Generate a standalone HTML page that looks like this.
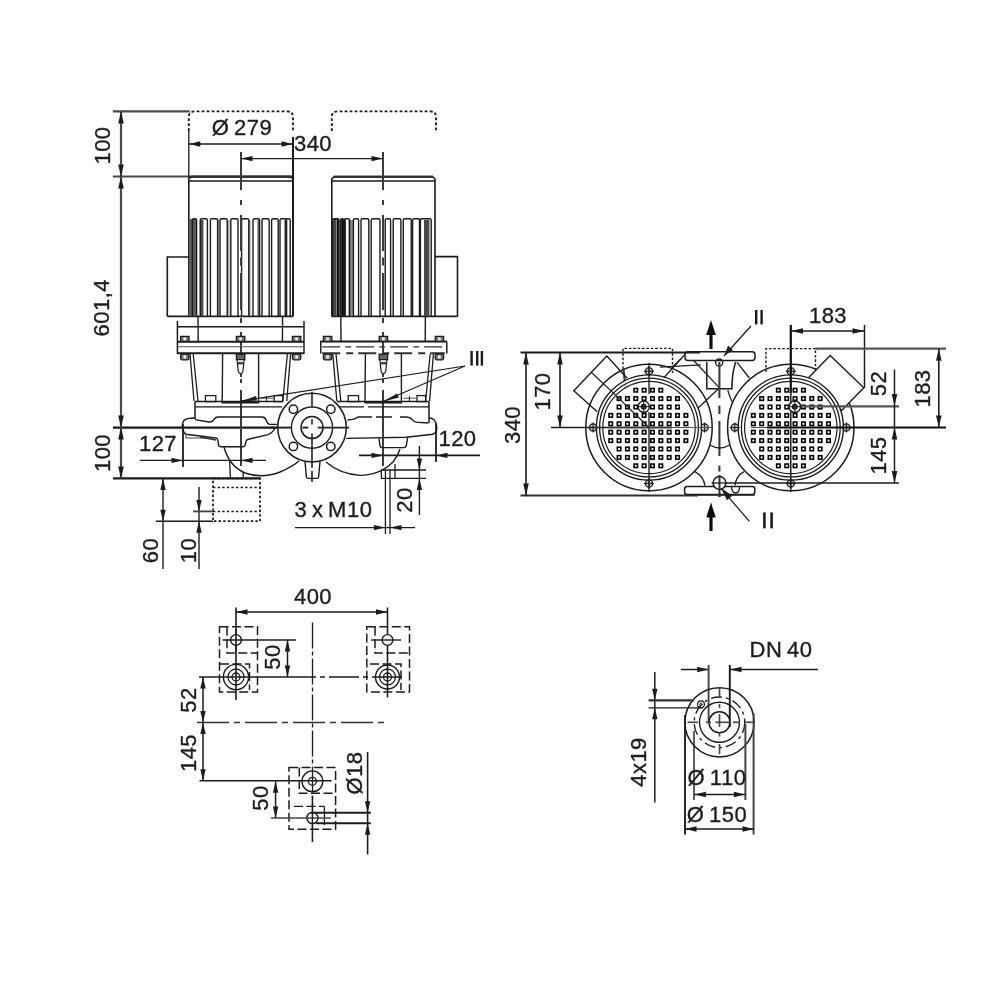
<!DOCTYPE html>
<html><head><meta charset="utf-8"><title>Dimension drawing</title>
<style>
html,body{margin:0;padding:0;background:#fff;}
body{width:1000px;height:1000px;overflow:hidden;font-family:"Liberation Sans",sans-serif;}
svg{display:block;font-family:"Liberation Sans",sans-serif;}
text{stroke:#1c1c1c;stroke-width:0.35px;}
</style></head><body>
<svg width="1000" height="1000" viewBox="0 0 1000 1000">
<defs><filter id="soft" x="-5%" y="-5%" width="110%" height="110%"><feGaussianBlur stdDeviation="0.45"/></filter></defs>
<rect x="0" y="0" width="1000" height="1000" fill="#ffffff"/>
<g filter="url(#soft)">
<g id="front">
<line x1="112.8" y1="111.4" x2="189.6" y2="111.4" stroke="#4a4a4a" stroke-width="2.2" />
<line x1="112.8" y1="176.5" x2="293" y2="176.5" stroke="#4a4a4a" stroke-width="2.2" />
<line x1="113" y1="427.6" x2="278" y2="427.6" stroke="#1c1c1c" stroke-width="2.2" />
<line x1="113" y1="478.4" x2="260" y2="478.4" stroke="#1c1c1c" stroke-width="2.2" />
<line x1="121" y1="111.4" x2="121" y2="478.4" stroke="#4a4a4a" stroke-width="2.2" />
<polygon points="121.0,111.4 118.2,123.4 123.8,123.4" fill="#1c1c1c"/>
<polygon points="121.0,176.5 118.2,164.5 123.8,164.5" fill="#1c1c1c"/>
<polygon points="121.0,176.5 118.2,188.5 123.8,188.5" fill="#1c1c1c"/>
<polygon points="121.0,427.6 118.2,415.6 123.8,415.6" fill="#1c1c1c"/>
<polygon points="121.0,427.6 118.2,439.6 123.8,439.6" fill="#1c1c1c"/>
<polygon points="121.0,478.4 118.2,466.4 123.8,466.4" fill="#1c1c1c"/>
<text x="109.5" y="145.5" font-size="22" text-anchor="middle" letter-spacing="0.5" fill="#1c1c1c" transform="rotate(-90 109.5 145.5)">100</text>
<text x="109.5" y="307.7" font-size="22" text-anchor="middle" letter-spacing="0.5" fill="#1c1c1c" transform="rotate(-90 109.5 307.7)">601,4</text>
<text x="109.5" y="453" font-size="22" text-anchor="middle" letter-spacing="0.5" fill="#1c1c1c" transform="rotate(-90 109.5 453)">100</text>
<path d="M188.8,131 L188.8,117 Q188.8,111.4 194.8,111.4 L287,111.4 Q293,111.4 293,117 L293,131" stroke="#1c1c1c" stroke-width="1.9" fill="none" stroke-dasharray="2.8 2.2"/>
<path d="M188.8,316.4 L188.8,179 L191.3,176.5 L290.5,176.5 L293,179 L293,316.4" stroke="#1c1c1c" stroke-width="1.6" fill="none"/>
<line x1="188.8" y1="181" x2="293" y2="181" stroke="#1c1c1c" stroke-width="1.4" />
<line x1="190.8" y1="176.8" x2="291" y2="176.8" stroke="#333" stroke-width="2.2" />
<line x1="167.3" y1="316.4" x2="293" y2="316.4" stroke="#1c1c1c" stroke-width="1.7" />
<rect x="188.8" y="219" width="7.6" height="97" rx="0" stroke="#1c1c1c" stroke-width="0" fill="#5e5e5e"/>
<rect x="200.0" y="220" width="3.4" height="96" rx="0" stroke="#1c1c1c" stroke-width="0" fill="#4a4a4a"/>
<rect x="217.60000000000002" y="220" width="1.6" height="96" rx="0" stroke="#1c1c1c" stroke-width="0" fill="#999"/>
<rect x="227.20000000000002" y="220" width="2.4" height="96" rx="0" stroke="#1c1c1c" stroke-width="0" fill="#aaa"/>
<rect x="248.8" y="220" width="1.8" height="96" rx="0" stroke="#1c1c1c" stroke-width="0" fill="#999"/>
<rect x="257.4" y="220" width="2.6" height="96" rx="0" stroke="#1c1c1c" stroke-width="0" fill="#666"/>
<rect x="284.4" y="220" width="3.0" height="96" rx="0" stroke="#1c1c1c" stroke-width="0" fill="#555"/>
<path d="M192.4,316.4 L192.4,220.2 Q192.4,218.8 193.8,218.8 L195.2,218.8 Q196.6,218.8 196.6,220.2 L196.6,316.4" stroke="#1c1c1c" stroke-width="1.4" fill="none"/>
<path d="M200.2,316.4 L200.2,220.2 Q200.2,218.8 201.6,218.8 L206.0,218.8 Q207.4,218.8 207.4,220.2 L207.4,316.4" stroke="#1c1c1c" stroke-width="1.4" fill="none"/>
<path d="M210.4,316.4 L210.4,220.2 Q210.4,218.8 211.8,218.8 L216.2,218.8 Q217.6,218.8 217.6,220.2 L217.6,316.4" stroke="#1c1c1c" stroke-width="1.4" fill="none"/>
<path d="M220.0,316.4 L220.0,220.2 Q220.0,218.8 221.4,218.8 L225.8,218.8 Q227.2,218.8 227.2,220.2 L227.2,316.4" stroke="#1c1c1c" stroke-width="1.4" fill="none"/>
<path d="M230.8,316.4 L230.8,220.2 Q230.8,218.8 232.2,218.8 L236.6,218.8 Q238.0,218.8 238.0,220.2 L238.0,316.4" stroke="#1c1c1c" stroke-width="1.4" fill="none"/>
<path d="M241.6,316.4 L241.6,220.2 Q241.6,218.8 243.0,218.8 L247.4,218.8 Q248.8,218.8 248.8,220.2 L248.8,316.4" stroke="#1c1c1c" stroke-width="1.4" fill="none"/>
<path d="M253.0,316.4 L253.0,220.2 Q253.0,218.8 254.4,218.8 L258.2,218.8 Q259.6,218.8 259.6,220.2 L259.6,316.4" stroke="#1c1c1c" stroke-width="1.4" fill="none"/>
<path d="M262.0,316.4 L262.0,220.2 Q262.0,218.8 263.4,218.8 L267.8,218.8 Q269.2,218.8 269.2,220.2 L269.2,316.4" stroke="#1c1c1c" stroke-width="1.4" fill="none"/>
<path d="M271.6,316.4 L271.6,220.2 Q271.6,218.8 273.0,218.8 L276.8,218.8 Q278.2,218.8 278.2,220.2 L278.2,316.4" stroke="#1c1c1c" stroke-width="1.4" fill="none"/>
<path d="M280.0,316.4 L280.0,220.2 Q280.0,218.8 281.4,218.8 L284.6,218.8 Q286.0,218.8 286.0,220.2 L286.0,316.4" stroke="#1c1c1c" stroke-width="1.4" fill="none"/>
<path d="M286.0,316.4 L286.0,220.2 Q286.0,218.8 287.4,218.8 L288.8,218.8 Q290.2,218.8 290.2,220.2 L290.2,316.4" stroke="#1c1c1c" stroke-width="1.4" fill="none"/>
<path d="M188.8,257 L167.3,257 L167.3,316.4" stroke="#1c1c1c" stroke-width="1.6" fill="none"/>
<line x1="241" y1="152" x2="241" y2="190" stroke="#3a3a3a" stroke-width="2.0" />
<line x1="241" y1="200" x2="241" y2="205" stroke="#3a3a3a" stroke-width="2.0" />
<line x1="241" y1="215" x2="241" y2="251" stroke="#3a3a3a" stroke-width="2.0" />
<line x1="241" y1="257.6" x2="241" y2="265.5" stroke="#3a3a3a" stroke-width="2.0" />
<line x1="241" y1="273" x2="241" y2="310" stroke="#3a3a3a" stroke-width="2.0" />
<line x1="241" y1="318" x2="241" y2="323" stroke="#3a3a3a" stroke-width="2.0" />
<line x1="241" y1="332" x2="241" y2="377" stroke="#3a3a3a" stroke-width="2.0" />
<line x1="241" y1="379" x2="241" y2="383" stroke="#3a3a3a" stroke-width="2.0" />
<line x1="241" y1="390" x2="241" y2="466" stroke="#3a3a3a" stroke-width="2.0" />
<path d="M331.8,131 L331.8,117 Q331.8,111.4 337.8,111.4 L430,111.4 Q436,111.4 436,117 L436,131" stroke="#1c1c1c" stroke-width="1.9" fill="none" stroke-dasharray="2.8 2.2"/>
<path d="M331.8,316.4 L331.8,179 L334.3,176.5 L432.5,176.5 L435,179 L435,316.4" stroke="#1c1c1c" stroke-width="1.6" fill="none"/>
<line x1="331.8" y1="181" x2="435" y2="181" stroke="#1c1c1c" stroke-width="1.4" />
<line x1="333.8" y1="176.8" x2="433" y2="176.8" stroke="#333" stroke-width="2.2" />
<line x1="331.8" y1="316.4" x2="457.5" y2="316.4" stroke="#1c1c1c" stroke-width="1.7" />
<rect x="332" y="219" width="4.2" height="97" rx="0" stroke="#1c1c1c" stroke-width="0" fill="#444"/>
<rect x="336.6" y="219" width="2.4" height="97" rx="0" stroke="#1c1c1c" stroke-width="0" fill="#111"/>
<rect x="341.2" y="219" width="2.2" height="97" rx="0" stroke="#1c1c1c" stroke-width="0" fill="#111"/>
<rect x="344.2" y="220" width="1.8" height="96" rx="0" stroke="#1c1c1c" stroke-width="0" fill="#333"/>
<rect x="348.4" y="220" width="5" height="96" rx="0" stroke="#1c1c1c" stroke-width="0" fill="#8a8a8a"/>
<rect x="424" y="220" width="5.4" height="96" rx="0" stroke="#1c1c1c" stroke-width="0" fill="#484848"/>
<path d="M332.4,316.4 L332.4,220.2 Q332.4,218.8 333.8,218.8 L337.6,218.8 Q339.0,218.8 339.0,220.2 L339.0,316.4" stroke="#1c1c1c" stroke-width="1.4" fill="none"/>
<path d="M340.6,316.4 L340.6,220.2 Q340.6,218.8 342.0,218.8 L342.2,218.8 Q343.6,218.8 343.6,220.2 L343.6,316.4" stroke="#1c1c1c" stroke-width="1.4" fill="none"/>
<path d="M344.4,316.4 L344.4,220.2 Q344.4,218.8 345.8,218.8 L348.2,218.8 Q349.6,218.8 349.6,220.2 L349.6,316.4" stroke="#1c1c1c" stroke-width="1.4" fill="none"/>
<path d="M353.4,316.4 L353.4,220.2 Q353.4,218.8 354.8,218.8 L357.2,218.8 Q358.6,218.8 358.6,220.2 L358.6,316.4" stroke="#1c1c1c" stroke-width="1.4" fill="none"/>
<path d="M361.0,316.4 L361.0,220.2 Q361.0,218.8 362.4,218.8 L367.4,218.8 Q368.8,218.8 368.8,220.2 L368.8,316.4" stroke="#1c1c1c" stroke-width="1.4" fill="none"/>
<path d="M371.2,316.4 L371.2,220.2 Q371.2,218.8 372.6,218.8 L378.6,218.8 Q380.0,218.8 380.0,220.2 L380.0,316.4" stroke="#1c1c1c" stroke-width="1.4" fill="none"/>
<path d="M385.2,316.4 L385.2,220.2 Q385.2,218.8 386.6,218.8 L389.2,218.8 Q390.6,218.8 390.6,220.2 L390.6,316.4" stroke="#1c1c1c" stroke-width="1.4" fill="none"/>
<path d="M393.2,316.4 L393.2,220.2 Q393.2,218.8 394.6,218.8 L399.5,218.8 Q400.9,218.8 400.9,220.2 L400.9,316.4" stroke="#1c1c1c" stroke-width="1.4" fill="none"/>
<path d="M403.3,316.4 L403.3,220.2 Q403.3,218.8 404.7,218.8 L409.8,218.8 Q411.2,218.8 411.2,220.2 L411.2,316.4" stroke="#1c1c1c" stroke-width="1.4" fill="none"/>
<path d="M412.6,316.4 L412.6,220.2 Q412.6,218.8 414.0,218.8 L418.1,218.8 Q419.5,218.8 419.5,220.2 L419.5,316.4" stroke="#1c1c1c" stroke-width="1.4" fill="none"/>
<path d="M420.4,316.4 L420.4,220.2 Q420.4,218.8 421.8,218.8 L429.8,218.8 Q431.2,218.8 431.2,220.2 L431.2,316.4" stroke="#1c1c1c" stroke-width="1.4" fill="none"/>
<path d="M435,256.6 L457.5,256.6 L457.5,316.4" stroke="#1c1c1c" stroke-width="1.6" fill="none"/>
<line x1="383" y1="152" x2="383" y2="190" stroke="#3a3a3a" stroke-width="2.0" />
<line x1="383" y1="200" x2="383" y2="205" stroke="#3a3a3a" stroke-width="2.0" />
<line x1="383" y1="215" x2="383" y2="251" stroke="#3a3a3a" stroke-width="2.0" />
<line x1="383" y1="257.6" x2="383" y2="265.5" stroke="#3a3a3a" stroke-width="2.0" />
<line x1="383" y1="273" x2="383" y2="310" stroke="#3a3a3a" stroke-width="2.0" />
<line x1="383" y1="318" x2="383" y2="323" stroke="#3a3a3a" stroke-width="2.0" />
<line x1="383" y1="332" x2="383" y2="377" stroke="#3a3a3a" stroke-width="2.0" />
<line x1="383" y1="379" x2="383" y2="383" stroke="#3a3a3a" stroke-width="2.0" />
<line x1="383" y1="390" x2="383" y2="466" stroke="#3a3a3a" stroke-width="2.0" />
<line x1="293" y1="137" x2="293" y2="316" stroke="#1c1c1c" stroke-width="2.0" />
<line x1="188.8" y1="131" x2="188.8" y2="178" stroke="#1c1c1c" stroke-width="1.3" />
<line x1="188.8" y1="144" x2="293" y2="144" stroke="#1c1c1c" stroke-width="1.4" />
<polygon points="188.8,144.0 200.3,141.3 200.3,146.7" fill="#1c1c1c"/>
<polygon points="293.0,144.0 281.5,141.3 281.5,146.7" fill="#1c1c1c"/>
<text x="242" y="134.5" font-size="22" text-anchor="middle" letter-spacing="0.5" word-spacing="-2" fill="#1c1c1c">Ø 279</text>
<line x1="241" y1="158.6" x2="383" y2="158.6" stroke="#1c1c1c" stroke-width="1.4" />
<polygon points="241.0,158.6 252.5,155.9 252.5,161.3" fill="#1c1c1c"/>
<polygon points="383.0,158.6 371.5,155.9 371.5,161.3" fill="#1c1c1c"/>
<text x="313" y="150.5" font-size="22" text-anchor="middle" letter-spacing="0.5" fill="#1c1c1c">340</text>
<line x1="198.0" y1="316.4" x2="198.2" y2="341.5" stroke="#1c1c1c" stroke-width="1.4" />
<line x1="282.6" y1="316.4" x2="282.4" y2="341.5" stroke="#1c1c1c" stroke-width="1.4" />
<line x1="177.39999999999998" y1="321" x2="177.39999999999998" y2="354" stroke="#1c1c1c" stroke-width="1.5" />
<line x1="304.0" y1="321" x2="304.0" y2="354" stroke="#1c1c1c" stroke-width="1.5" />
<line x1="177.39999999999998" y1="326.8" x2="304.0" y2="326.8" stroke="#1c1c1c" stroke-width="1.5" />
<line x1="177.39999999999998" y1="341.7" x2="304.0" y2="341.7" stroke="#1c1c1c" stroke-width="2.0" />
<line x1="177.39999999999998" y1="346.8" x2="304.0" y2="346.8" stroke="#555" stroke-width="1.1" />
<line x1="177.39999999999998" y1="353.3" x2="304.0" y2="353.3" stroke="#1c1c1c" stroke-width="2.0" />
<rect x="180.60000000000002" y="336.4" width="8.4" height="5" rx="0" stroke="#1c1c1c" stroke-width="1.3" fill="#777"/>
<rect x="183.5" y="337.4" width="2.6" height="3" rx="0" stroke="#1c1c1c" stroke-width="0" fill="#eee"/>
<rect x="236.4" y="336.4" width="8.4" height="5" rx="0" stroke="#1c1c1c" stroke-width="1.3" fill="#777"/>
<rect x="239.29999999999998" y="337.4" width="2.6" height="3" rx="0" stroke="#1c1c1c" stroke-width="0" fill="#eee"/>
<rect x="292.40000000000003" y="336.4" width="8.4" height="5" rx="0" stroke="#1c1c1c" stroke-width="1.3" fill="#777"/>
<rect x="295.3" y="337.4" width="2.6" height="3" rx="0" stroke="#1c1c1c" stroke-width="0" fill="#eee"/>
<rect x="180.60000000000002" y="354.2" width="8.4" height="5.6" rx="1.5" stroke="#1c1c1c" stroke-width="1.3" fill="#777"/>
<rect x="183.5" y="355.2" width="2.6" height="3.4" rx="0" stroke="#1c1c1c" stroke-width="0" fill="#eee"/>
<rect x="292.40000000000003" y="354.2" width="8.4" height="5.6" rx="1.5" stroke="#1c1c1c" stroke-width="1.3" fill="#777"/>
<rect x="295.3" y="355.2" width="2.6" height="3.4" rx="0" stroke="#1c1c1c" stroke-width="0" fill="#eee"/>
<rect x="236.4" y="354.2" width="8.4" height="5.4" rx="0" stroke="#1c1c1c" stroke-width="1.3" fill="#666"/>
<path d="M237.0,359.6 L238.4,372 Q240.6,375.5 242.79999999999998,372 L244.2,359.6 Z" stroke="#1c1c1c" stroke-width="1.2" fill="#fff"/>
<rect x="238.0" y="362" width="5.2" height="2.4" rx="0" stroke="#1c1c1c" stroke-width="0" fill="#444"/>
<line x1="190.0" y1="354" x2="194.0" y2="401" stroke="#1c1c1c" stroke-width="1.3" />
<line x1="193.2" y1="354" x2="198.0" y2="401" stroke="#1c1c1c" stroke-width="1.3" />
<line x1="290.6" y1="354" x2="286.8" y2="401" stroke="#1c1c1c" stroke-width="1.3" />
<line x1="287.4" y1="354" x2="282.8" y2="401" stroke="#1c1c1c" stroke-width="1.3" />
<path d="M222.6,354 L222.2,402.8 L258.6,402.8 L258.6,354" stroke="#1c1c1c" stroke-width="1.4" fill="none"/>
<rect x="205.39999999999998" y="395.6" width="10.4" height="6" rx="0" stroke="#1c1c1c" stroke-width="1.3" fill="none"/>
<rect x="274.2" y="395.6" width="8.6" height="6" rx="0" stroke="#1c1c1c" stroke-width="1.3" fill="none"/>
<line x1="260.6" y1="398.2" x2="273.6" y2="398.2" stroke="#555" stroke-width="1.0" />
<line x1="266.6" y1="396" x2="266.6" y2="401" stroke="#1c1c1c" stroke-width="1.0" />
<line x1="340.79999999999995" y1="316.4" x2="341.0" y2="341.5" stroke="#1c1c1c" stroke-width="1.4" />
<line x1="425.4" y1="316.4" x2="425.2" y2="341.5" stroke="#1c1c1c" stroke-width="1.4" />
<line x1="320.8" y1="341.5" x2="320.8" y2="353.5" stroke="#1c1c1c" stroke-width="1.5" />
<line x1="446.79999999999995" y1="341.5" x2="446.79999999999995" y2="353.5" stroke="#1c1c1c" stroke-width="1.5" />
<line x1="320.2" y1="341.5" x2="446.79999999999995" y2="341.5" stroke="#1c1c1c" stroke-width="2.0" />
<line x1="322.2" y1="346.8" x2="444.79999999999995" y2="346.8" stroke="#333" stroke-width="1.3" stroke-dasharray="18 5 6 5" />
<line x1="322.2" y1="353.3" x2="444.79999999999995" y2="353.3" stroke="#333" stroke-width="2.0" stroke-dasharray="18 6 7 5" />
<rect x="323.4" y="336.4" width="8.4" height="5" rx="0" stroke="#1c1c1c" stroke-width="1.3" fill="#777"/>
<rect x="326.29999999999995" y="337.4" width="2.6" height="3" rx="0" stroke="#1c1c1c" stroke-width="0" fill="#eee"/>
<rect x="379.2" y="336.4" width="8.4" height="5" rx="0" stroke="#1c1c1c" stroke-width="1.3" fill="#777"/>
<rect x="382.09999999999997" y="337.4" width="2.6" height="3" rx="0" stroke="#1c1c1c" stroke-width="0" fill="#eee"/>
<rect x="435.2" y="336.4" width="8.4" height="5" rx="0" stroke="#1c1c1c" stroke-width="1.3" fill="#777"/>
<rect x="438.09999999999997" y="337.4" width="2.6" height="3" rx="0" stroke="#1c1c1c" stroke-width="0" fill="#eee"/>
<rect x="323.4" y="354.2" width="8.4" height="5.6" rx="1.5" stroke="#1c1c1c" stroke-width="1.3" fill="#777"/>
<rect x="326.29999999999995" y="355.2" width="2.6" height="3.4" rx="0" stroke="#1c1c1c" stroke-width="0" fill="#eee"/>
<rect x="435.2" y="354.2" width="8.4" height="5.6" rx="1.5" stroke="#1c1c1c" stroke-width="1.3" fill="#777"/>
<rect x="438.09999999999997" y="355.2" width="2.6" height="3.4" rx="0" stroke="#1c1c1c" stroke-width="0" fill="#eee"/>
<rect x="379.2" y="354.2" width="8.4" height="5.4" rx="0" stroke="#1c1c1c" stroke-width="1.3" fill="#666"/>
<path d="M379.79999999999995,359.6 L381.2,372 Q383.4,375.5 385.59999999999997,372 L387.0,359.6 Z" stroke="#1c1c1c" stroke-width="1.2" fill="#fff"/>
<rect x="380.79999999999995" y="362" width="5.2" height="2.4" rx="0" stroke="#1c1c1c" stroke-width="0" fill="#444"/>
<line x1="332.79999999999995" y1="354" x2="336.79999999999995" y2="401" stroke="#1c1c1c" stroke-width="1.3" />
<line x1="336.0" y1="354" x2="340.79999999999995" y2="401" stroke="#1c1c1c" stroke-width="1.3" />
<line x1="433.4" y1="354" x2="429.59999999999997" y2="401" stroke="#1c1c1c" stroke-width="1.3" />
<line x1="430.2" y1="354" x2="425.59999999999997" y2="401" stroke="#1c1c1c" stroke-width="1.3" />
<path d="M365.4,354 L365.0,402.8 L401.4,402.8 L401.4,354" stroke="#1c1c1c" stroke-width="1.4" fill="none"/>
<rect x="348.2" y="395.6" width="10.4" height="6" rx="0" stroke="#1c1c1c" stroke-width="1.3" fill="none"/>
<rect x="417.0" y="395.6" width="8.6" height="6" rx="0" stroke="#1c1c1c" stroke-width="1.3" fill="none"/>
<line x1="403.4" y1="398.2" x2="416.4" y2="398.2" stroke="#555" stroke-width="1.0" />
<line x1="409.4" y1="396" x2="409.4" y2="401" stroke="#1c1c1c" stroke-width="1.0" />
<path d="M195,401.5 L283,401.5" stroke="#1c1c1c" stroke-width="1.5" fill="none"/>
<path d="M195,406.8 L282,406.8" stroke="#1c1c1c" stroke-width="1.3" fill="none"/>
<path d="M195,401.5 L195,419" stroke="#1c1c1c" stroke-width="1.5" fill="none"/>
<path d="M195,418 Q186,418 184,420.5 Q181.5,424 182.6,428.5 Q183.6,433 186,434.2 L216,438 Q217.6,438.4 217.8,440 L218.6,445 Q219,446.8 221,446.8 L243,446.8 Q244.8,446.8 245.2,445 L246.2,441 Q246.6,439.6 248.5,439.2 L268,434.6 Q273,433 275,427.6" stroke="#1c1c1c" stroke-width="1.4" fill="none"/>
<path d="M195,419.6 L209,422 Q212,422.2 213.6,420 Q215.4,417 218,417 L262,417 Q265,417 266.2,420 Q267.4,424.2 270,424.4 L277,424.4" stroke="#1c1c1c" stroke-width="1.4" fill="none"/>
<path d="M186,434.2 L186,438 L213,438" stroke="#444" stroke-width="1.0" fill="none"/>
<path d="M200,437 L216,440" stroke="#333" stroke-width="1.6" fill="none"/>
<path d="M224,447 Q229,466 245,473 Q262,479 280,472 Q292,467 299,461" stroke="#1c1c1c" stroke-width="1.4" fill="none"/>
<line x1="229.6" y1="460" x2="230.4" y2="478.4" stroke="#1c1c1c" stroke-width="1.3" />
<line x1="243.2" y1="472" x2="243.2" y2="478.4" stroke="#1c1c1c" stroke-width="1.3" />
<path d="M337,401.5 L429,401.5" stroke="#1c1c1c" stroke-width="1.5" fill="none"/>
<path d="M338,406.8 L429,406.8" stroke="#1c1c1c" stroke-width="1.3" fill="none" stroke-dasharray="26 4 60 0"/>
<path d="M429,401.5 L429,423" stroke="#1c1c1c" stroke-width="1.5" fill="none"/>
<path d="M429,418 Q433.4,418.2 435.2,421.5 Q437.2,425.5 436.6,430 Q436,433.4 433,434.2 L406,437.2 L347.6,438.4" stroke="#1c1c1c" stroke-width="1.4" fill="none"/>
<path d="M347.6,420 Q355,419.6 358,417 L372,417 M376,417 L392,417 M400,417 L406,417 Q410,417 412,419.6 Q414,422.2 418,422.4 L428.4,423" stroke="#1c1c1c" stroke-width="1.4" fill="none"/>
<path d="M379,438.4 L380,446 Q380.4,447.6 382,447.6 L404,447.6 Q405.8,447.6 406.2,446 L407.6,438" stroke="#1c1c1c" stroke-width="1.4" fill="none"/>
<path d="M346,438.4 L352,438.4" stroke="#1c1c1c" stroke-width="1.0" fill="none"/>
<path d="M326,462 Q340,474 360,475.4 Q380,475 393,462 Q398,456 400,449" stroke="#1c1c1c" stroke-width="1.4" fill="none"/>
<path d="M381.4,470 L381.4,478.4 M385.4,470 L385.4,534 M390,470 L390,534 M395,464 L395,478.4" stroke="#1c1c1c" stroke-width="1.3" fill="none"/>
<line x1="381" y1="470" x2="426" y2="470" stroke="#1c1c1c" stroke-width="1.6" />
<line x1="381" y1="478.4" x2="426" y2="478.4" stroke="#1c1c1c" stroke-width="1.3" />
<line x1="419.4" y1="446" x2="419.4" y2="515" stroke="#1c1c1c" stroke-width="1.4" />
<polygon points="419.4,470.0 416.7,458.5 422.1,458.5" fill="#1c1c1c"/>
<polygon points="419.4,478.4 416.7,489.9 422.1,489.9" fill="#1c1c1c"/>
<text x="411.5" y="500" font-size="22" text-anchor="middle" letter-spacing="0.5" fill="#1c1c1c" transform="rotate(-90 411.5 500)">20</text>
<line x1="295" y1="527.6" x2="415" y2="527.6" stroke="#1c1c1c" stroke-width="1.4" />
<polygon points="385.4,527.6 373.9,524.9 373.9,530.3" fill="#1c1c1c"/>
<polygon points="390.0,527.6 401.5,524.9 401.5,530.3" fill="#1c1c1c"/>
<text x="333.5" y="517" font-size="22" text-anchor="middle" letter-spacing="0.5" word-spacing="-2" fill="#1c1c1c">3 x M10</text>
<line x1="359" y1="455.4" x2="480" y2="455.4" stroke="#1c1c1c" stroke-width="1.6" />
<polygon points="383.0,455.4 371.5,452.7 371.5,458.1" fill="#1c1c1c"/>
<polygon points="436.0,455.4 447.5,452.7 447.5,458.1" fill="#1c1c1c"/>
<line x1="436" y1="423" x2="436" y2="462" stroke="#1c1c1c" stroke-width="1.8" />
<text x="457.5" y="446" font-size="22" text-anchor="middle" letter-spacing="0.5" fill="#1c1c1c">120</text>
<line x1="140" y1="460.4" x2="266" y2="460.4" stroke="#1c1c1c" stroke-width="1.4" />
<polygon points="183.0,460.4 171.5,457.7 171.5,463.1" fill="#1c1c1c"/>
<polygon points="241.0,460.4 252.5,457.7 252.5,463.1" fill="#1c1c1c"/>
<line x1="183" y1="424" x2="183" y2="467" stroke="#1c1c1c" stroke-width="1.8" />
<text x="158" y="451" font-size="22" text-anchor="middle" letter-spacing="0.5" fill="#1c1c1c">127</text>
<circle cx="312" cy="427.6" r="34.3" stroke="#1c1c1c" stroke-width="1.5" fill="#fff"/>
<circle cx="312" cy="427.6" r="20.6" stroke="#1c1c1c" stroke-width="1.4" fill="none"/>
<circle cx="312" cy="427.6" r="11" stroke="#1c1c1c" stroke-width="1.5" fill="none"/>
<circle cx="293.4" cy="409.20000000000005" r="4.2" stroke="#1c1c1c" stroke-width="1.5" fill="none"/>
<circle cx="293.4" cy="446.40000000000003" r="4.2" stroke="#1c1c1c" stroke-width="1.5" fill="none"/>
<circle cx="330.8" cy="409.20000000000005" r="4.2" stroke="#1c1c1c" stroke-width="1.5" fill="none"/>
<circle cx="330.8" cy="446.40000000000003" r="4.2" stroke="#1c1c1c" stroke-width="1.5" fill="none"/>
<line x1="270" y1="427.6" x2="291.6" y2="427.6" stroke="#222" stroke-width="1.9" />
<line x1="302.4" y1="427.6" x2="308.3" y2="427.6" stroke="#222" stroke-width="1.9" />
<line x1="317.7" y1="427.6" x2="349.2" y2="427.6" stroke="#222" stroke-width="1.9" />
<line x1="312" y1="391.8" x2="312" y2="406.6" stroke="#222" stroke-width="1.6" />
<line x1="312" y1="419.2" x2="312" y2="424.6" stroke="#222" stroke-width="1.6" />
<line x1="312" y1="433.6" x2="312" y2="467.8" stroke="#222" stroke-width="1.6" />
<line x1="312" y1="471" x2="312" y2="482" stroke="#222" stroke-width="1.6" />
<path d="M305,461.4 L306.4,477 Q306.6,478.4 308,478.4 L317,478.4 Q318.4,478.4 318.6,477 L320,461.4" stroke="#1c1c1c" stroke-width="1.4" fill="none"/>
<line x1="465" y1="366" x2="240.6" y2="401.2" stroke="#1c1c1c" stroke-width="1.2" />
<line x1="465" y1="366" x2="383.6" y2="401.2" stroke="#1c1c1c" stroke-width="1.2" />
<polygon points="240.6,401.6 256,396.0 256.8,400.6" fill="#1c1c1c"/>
<polygon points="383.6,401.6 397,393.4 398.8,397.4" fill="#1c1c1c"/>
<rect x="470.40000000000003" y="351" width="2.4" height="14.6" rx="0" stroke="#1c1c1c" stroke-width="0" fill="#1c1c1c"/>
<rect x="476.0" y="351" width="2.4" height="14.6" rx="0" stroke="#1c1c1c" stroke-width="0" fill="#1c1c1c"/>
<rect x="480.7" y="351" width="2.4" height="14.6" rx="0" stroke="#1c1c1c" stroke-width="0" fill="#1c1c1c"/>
<rect x="213" y="478.4" width="47" height="42.8" rx="0" stroke="#1c1c1c" stroke-width="1.8" fill="none" stroke-dasharray="2.4 2.2"/>
<line x1="213" y1="487.6" x2="260" y2="487.6" stroke="#1c1c1c" stroke-width="1.5" stroke-dasharray="2.4 2.2" />
<line x1="213" y1="511.4" x2="260" y2="511.4" stroke="#1c1c1c" stroke-width="1.5" stroke-dasharray="2.4 2.2" />
<line x1="163" y1="478.4" x2="163" y2="569" stroke="#1c1c1c" stroke-width="1.4" />
<line x1="156" y1="521.2" x2="213" y2="521.2" stroke="#1c1c1c" stroke-width="1.4" />
<polygon points="163.0,478.4 160.3,489.9 165.7,489.9" fill="#1c1c1c"/>
<polygon points="163.0,521.2 160.3,509.7 165.7,509.7" fill="#1c1c1c"/>
<text x="157.5" y="550.5" font-size="22" text-anchor="middle" letter-spacing="0.5" fill="#1c1c1c" transform="rotate(-90 157.5 550.5)">60</text>
<line x1="199" y1="487" x2="199" y2="569" stroke="#1c1c1c" stroke-width="1.4" />
<line x1="193" y1="511.4" x2="213" y2="511.4" stroke="#444" stroke-width="1.8" />
<polygon points="199.0,511.4 196.3,499.9 201.7,499.9" fill="#1c1c1c"/>
<polygon points="199.0,521.2 196.3,532.7 201.7,532.7" fill="#1c1c1c"/>
<text x="195.5" y="550.5" font-size="22" text-anchor="middle" letter-spacing="0.5" fill="#1c1c1c" transform="rotate(-90 195.5 550.5)">10</text>
</g>
<g id="top">
<line x1="520.5" y1="495.5" x2="698" y2="495.5" stroke="#333" stroke-width="2.0" />
<line x1="698" y1="495.5" x2="755" y2="495.5" stroke="#555" stroke-width="1.0" />
<line x1="526" y1="352.5" x2="526" y2="495.5" stroke="#1c1c1c" stroke-width="1.6" />
<polygon points="526.0,352.5 523.2,364.5 528.8,364.5" fill="#1c1c1c"/>
<polygon points="526.0,495.5 523.2,483.5 528.8,483.5" fill="#1c1c1c"/>
<text x="520" y="425" font-size="22" text-anchor="middle" letter-spacing="0.5" fill="#1c1c1c" transform="rotate(-90 520 425)">340</text>
<line x1="560" y1="352.5" x2="560" y2="427.5" stroke="#1c1c1c" stroke-width="1.6" />
<polygon points="560.0,352.5 557.2,364.5 562.8,364.5" fill="#1c1c1c"/>
<polygon points="560.0,427.5 557.2,415.5 562.8,415.5" fill="#1c1c1c"/>
<text x="550" y="391.5" font-size="22" text-anchor="middle" letter-spacing="0.5" fill="#1c1c1c" transform="rotate(-90 550 391.5)">170</text>
<circle cx="649" cy="427.5" r="63.2" stroke="#1c1c1c" stroke-width="1.5" fill="#fff"/>
<circle cx="790.8" cy="427.5" r="63.2" stroke="#1c1c1c" stroke-width="1.5" fill="#fff"/>
<path d="M623,369 L623,348.4 L672.5,348.4 L672.5,373" stroke="#1c1c1c" stroke-width="1.4" fill="none" stroke-dasharray="2.6 1.8"/>
<line x1="623.6" y1="369" x2="624.6" y2="381" stroke="#333" stroke-width="2.0" />
<path d="M766,372 L766,348.6 L815.5,348.6 L815.5,370" stroke="#1c1c1c" stroke-width="1.4" fill="none" stroke-dasharray="2.6 1.8"/>
<path d="M597.2,411.8 L573.8,390.8 L606.8,356 L627.2,378.2" stroke="#1c1c1c" stroke-width="1.4" fill="none"/>
<line x1="591.2" y1="372.2" x2="611.6" y2="391.4" stroke="#1c1c1c" stroke-width="1.3" />
<path d="M808,378.2 L830.2,355.4 L863.8,387.8 L841.6,410.6 Z" stroke="#1c1c1c" stroke-width="1.4" fill="#fff"/>
<line x1="663.6" y1="378" x2="686" y2="353.4" stroke="#1c1c1c" stroke-width="1.3" />
<line x1="687.6" y1="354" x2="719.2" y2="387.6" stroke="#1c1c1c" stroke-width="1.3" />
<line x1="719.2" y1="388" x2="697" y2="409" stroke="#1c1c1c" stroke-width="1.3" />
<line x1="660" y1="367.2" x2="700.8" y2="364.8" stroke="#1c1c1c" stroke-width="1.2" />
<line x1="672.4" y1="367" x2="681" y2="358.6" stroke="#1c1c1c" stroke-width="1.2" />
<path d="M706.8,362 L706.8,388.8 L732,388.8 Q731.6,375 735.6,362" stroke="#1c1c1c" stroke-width="1.5" fill="none"/>
<line x1="737" y1="362.4" x2="749.4" y2="378" stroke="#1c1c1c" stroke-width="1.3" />
<path d="M727.8,390 Q730,398 732.6,402.4" stroke="#1c1c1c" stroke-width="1.2" fill="none"/>
<circle cx="649" cy="427.5" r="52.6" stroke="#1c1c1c" stroke-width="1.4" fill="#fff"/>
<circle cx="649" cy="427.5" r="49.4" stroke="#1c1c1c" stroke-width="1.3" fill="none"/>
<circle cx="649" cy="427.5" r="46.2" stroke="#1c1c1c" stroke-width="1.2" fill="none"/>
<rect x="634.02" y="388.45" width="3.5" height="3.5" rx="0" stroke="#000" stroke-width="1.55" fill="#fff"/>
<rect x="642.38" y="388.45" width="3.5" height="3.5" rx="0" stroke="#000" stroke-width="1.55" fill="#fff"/>
<rect x="650.72" y="388.45" width="3.5" height="3.5" rx="0" stroke="#000" stroke-width="1.55" fill="#fff"/>
<rect x="659.07" y="388.45" width="3.5" height="3.5" rx="0" stroke="#000" stroke-width="1.55" fill="#fff"/>
<rect x="617.32" y="396.85" width="3.5" height="3.5" rx="0" stroke="#000" stroke-width="1.55" fill="#fff"/>
<rect x="625.67" y="396.85" width="3.5" height="3.5" rx="0" stroke="#000" stroke-width="1.55" fill="#fff"/>
<rect x="634.02" y="396.85" width="3.5" height="3.5" rx="0" stroke="#000" stroke-width="1.55" fill="#fff"/>
<rect x="642.38" y="396.85" width="3.5" height="3.5" rx="0" stroke="#000" stroke-width="1.55" fill="#fff"/>
<rect x="650.72" y="396.85" width="3.5" height="3.5" rx="0" stroke="#000" stroke-width="1.55" fill="#fff"/>
<rect x="659.07" y="396.85" width="3.5" height="3.5" rx="0" stroke="#000" stroke-width="1.55" fill="#fff"/>
<rect x="667.42" y="396.85" width="3.5" height="3.5" rx="0" stroke="#000" stroke-width="1.55" fill="#fff"/>
<rect x="675.77" y="396.85" width="3.5" height="3.5" rx="0" stroke="#000" stroke-width="1.55" fill="#fff"/>
<rect x="617.32" y="405.25" width="3.5" height="3.5" rx="0" stroke="#000" stroke-width="1.55" fill="#fff"/>
<rect x="625.67" y="405.25" width="3.5" height="3.5" rx="0" stroke="#000" stroke-width="1.55" fill="#fff"/>
<rect x="634.02" y="405.25" width="3.5" height="3.5" rx="0" stroke="#000" stroke-width="1.55" fill="#fff"/>
<rect x="642.38" y="405.25" width="3.5" height="3.5" rx="0" stroke="#000" stroke-width="1.55" fill="#fff"/>
<rect x="650.72" y="405.25" width="3.5" height="3.5" rx="0" stroke="#000" stroke-width="1.55" fill="#fff"/>
<rect x="659.07" y="405.25" width="3.5" height="3.5" rx="0" stroke="#000" stroke-width="1.55" fill="#fff"/>
<rect x="667.42" y="405.25" width="3.5" height="3.5" rx="0" stroke="#000" stroke-width="1.55" fill="#fff"/>
<rect x="675.77" y="405.25" width="3.5" height="3.5" rx="0" stroke="#000" stroke-width="1.55" fill="#fff"/>
<rect x="608.97" y="413.65" width="3.5" height="3.5" rx="0" stroke="#000" stroke-width="1.55" fill="#fff"/>
<rect x="617.32" y="413.65" width="3.5" height="3.5" rx="0" stroke="#000" stroke-width="1.55" fill="#fff"/>
<rect x="625.67" y="413.65" width="3.5" height="3.5" rx="0" stroke="#000" stroke-width="1.55" fill="#fff"/>
<rect x="634.02" y="413.65" width="3.5" height="3.5" rx="0" stroke="#000" stroke-width="1.55" fill="#fff"/>
<rect x="642.38" y="413.65" width="3.5" height="3.5" rx="0" stroke="#000" stroke-width="1.55" fill="#fff"/>
<rect x="650.72" y="413.65" width="3.5" height="3.5" rx="0" stroke="#000" stroke-width="1.55" fill="#fff"/>
<rect x="659.07" y="413.65" width="3.5" height="3.5" rx="0" stroke="#000" stroke-width="1.55" fill="#fff"/>
<rect x="667.42" y="413.65" width="3.5" height="3.5" rx="0" stroke="#000" stroke-width="1.55" fill="#fff"/>
<rect x="675.77" y="413.65" width="3.5" height="3.5" rx="0" stroke="#000" stroke-width="1.55" fill="#fff"/>
<rect x="684.12" y="413.65" width="3.5" height="3.5" rx="0" stroke="#000" stroke-width="1.55" fill="#fff"/>
<rect x="608.97" y="422.05" width="3.5" height="3.5" rx="0" stroke="#000" stroke-width="1.55" fill="#fff"/>
<rect x="617.32" y="422.05" width="3.5" height="3.5" rx="0" stroke="#000" stroke-width="1.55" fill="#fff"/>
<rect x="625.67" y="422.05" width="3.5" height="3.5" rx="0" stroke="#000" stroke-width="1.55" fill="#fff"/>
<rect x="634.02" y="422.05" width="3.5" height="3.5" rx="0" stroke="#000" stroke-width="1.55" fill="#fff"/>
<rect x="642.38" y="422.05" width="3.5" height="3.5" rx="0" stroke="#000" stroke-width="1.55" fill="#fff"/>
<rect x="650.72" y="422.05" width="3.5" height="3.5" rx="0" stroke="#000" stroke-width="1.55" fill="#fff"/>
<rect x="659.07" y="422.05" width="3.5" height="3.5" rx="0" stroke="#000" stroke-width="1.55" fill="#fff"/>
<rect x="667.42" y="422.05" width="3.5" height="3.5" rx="0" stroke="#000" stroke-width="1.55" fill="#fff"/>
<rect x="675.77" y="422.05" width="3.5" height="3.5" rx="0" stroke="#000" stroke-width="1.55" fill="#fff"/>
<rect x="684.12" y="422.05" width="3.5" height="3.5" rx="0" stroke="#000" stroke-width="1.55" fill="#fff"/>
<rect x="608.97" y="430.45" width="3.5" height="3.5" rx="0" stroke="#000" stroke-width="1.55" fill="#fff"/>
<rect x="617.32" y="430.45" width="3.5" height="3.5" rx="0" stroke="#000" stroke-width="1.55" fill="#fff"/>
<rect x="625.67" y="430.45" width="3.5" height="3.5" rx="0" stroke="#000" stroke-width="1.55" fill="#fff"/>
<rect x="634.02" y="430.45" width="3.5" height="3.5" rx="0" stroke="#000" stroke-width="1.55" fill="#fff"/>
<rect x="642.38" y="430.45" width="3.5" height="3.5" rx="0" stroke="#000" stroke-width="1.55" fill="#fff"/>
<rect x="650.72" y="430.45" width="3.5" height="3.5" rx="0" stroke="#000" stroke-width="1.55" fill="#fff"/>
<rect x="659.07" y="430.45" width="3.5" height="3.5" rx="0" stroke="#000" stroke-width="1.55" fill="#fff"/>
<rect x="667.42" y="430.45" width="3.5" height="3.5" rx="0" stroke="#000" stroke-width="1.55" fill="#fff"/>
<rect x="675.77" y="430.45" width="3.5" height="3.5" rx="0" stroke="#000" stroke-width="1.55" fill="#fff"/>
<rect x="684.12" y="430.45" width="3.5" height="3.5" rx="0" stroke="#000" stroke-width="1.55" fill="#fff"/>
<rect x="608.97" y="438.85" width="3.5" height="3.5" rx="0" stroke="#000" stroke-width="1.55" fill="#fff"/>
<rect x="617.32" y="438.85" width="3.5" height="3.5" rx="0" stroke="#000" stroke-width="1.55" fill="#fff"/>
<rect x="625.67" y="438.85" width="3.5" height="3.5" rx="0" stroke="#000" stroke-width="1.55" fill="#fff"/>
<rect x="634.02" y="438.85" width="3.5" height="3.5" rx="0" stroke="#000" stroke-width="1.55" fill="#fff"/>
<rect x="642.38" y="438.85" width="3.5" height="3.5" rx="0" stroke="#000" stroke-width="1.55" fill="#fff"/>
<rect x="650.72" y="438.85" width="3.5" height="3.5" rx="0" stroke="#000" stroke-width="1.55" fill="#fff"/>
<rect x="659.07" y="438.85" width="3.5" height="3.5" rx="0" stroke="#000" stroke-width="1.55" fill="#fff"/>
<rect x="667.42" y="438.85" width="3.5" height="3.5" rx="0" stroke="#000" stroke-width="1.55" fill="#fff"/>
<rect x="675.77" y="438.85" width="3.5" height="3.5" rx="0" stroke="#000" stroke-width="1.55" fill="#fff"/>
<rect x="684.12" y="438.85" width="3.5" height="3.5" rx="0" stroke="#000" stroke-width="1.55" fill="#fff"/>
<rect x="617.32" y="447.25" width="3.5" height="3.5" rx="0" stroke="#000" stroke-width="1.55" fill="#fff"/>
<rect x="625.67" y="447.25" width="3.5" height="3.5" rx="0" stroke="#000" stroke-width="1.55" fill="#fff"/>
<rect x="634.02" y="447.25" width="3.5" height="3.5" rx="0" stroke="#000" stroke-width="1.55" fill="#fff"/>
<rect x="642.38" y="447.25" width="3.5" height="3.5" rx="0" stroke="#000" stroke-width="1.55" fill="#fff"/>
<rect x="650.72" y="447.25" width="3.5" height="3.5" rx="0" stroke="#000" stroke-width="1.55" fill="#fff"/>
<rect x="659.07" y="447.25" width="3.5" height="3.5" rx="0" stroke="#000" stroke-width="1.55" fill="#fff"/>
<rect x="667.42" y="447.25" width="3.5" height="3.5" rx="0" stroke="#000" stroke-width="1.55" fill="#fff"/>
<rect x="675.77" y="447.25" width="3.5" height="3.5" rx="0" stroke="#000" stroke-width="1.55" fill="#fff"/>
<rect x="617.32" y="455.65" width="3.5" height="3.5" rx="0" stroke="#000" stroke-width="1.55" fill="#fff"/>
<rect x="625.67" y="455.65" width="3.5" height="3.5" rx="0" stroke="#000" stroke-width="1.55" fill="#fff"/>
<rect x="634.02" y="455.65" width="3.5" height="3.5" rx="0" stroke="#000" stroke-width="1.55" fill="#fff"/>
<rect x="642.38" y="455.65" width="3.5" height="3.5" rx="0" stroke="#000" stroke-width="1.55" fill="#fff"/>
<rect x="650.72" y="455.65" width="3.5" height="3.5" rx="0" stroke="#000" stroke-width="1.55" fill="#fff"/>
<rect x="659.07" y="455.65" width="3.5" height="3.5" rx="0" stroke="#000" stroke-width="1.55" fill="#fff"/>
<rect x="667.42" y="455.65" width="3.5" height="3.5" rx="0" stroke="#000" stroke-width="1.55" fill="#fff"/>
<rect x="675.77" y="455.65" width="3.5" height="3.5" rx="0" stroke="#000" stroke-width="1.55" fill="#fff"/>
<rect x="634.02" y="464.05" width="3.5" height="3.5" rx="0" stroke="#000" stroke-width="1.55" fill="#fff"/>
<rect x="642.38" y="464.05" width="3.5" height="3.5" rx="0" stroke="#000" stroke-width="1.55" fill="#fff"/>
<rect x="650.72" y="464.05" width="3.5" height="3.5" rx="0" stroke="#000" stroke-width="1.55" fill="#fff"/>
<rect x="659.07" y="464.05" width="3.5" height="3.5" rx="0" stroke="#000" stroke-width="1.55" fill="#fff"/>
<circle cx="649" cy="371.3" r="3.6" stroke="#1c1c1c" stroke-width="1.3" fill="#ccc"/>
<line x1="644" y1="371.3" x2="654" y2="371.3" stroke="#1c1c1c" stroke-width="1.1" />
<line x1="649" y1="366.3" x2="649" y2="376.3" stroke="#1c1c1c" stroke-width="1.1" />
<circle cx="649" cy="483.5" r="3.6" stroke="#1c1c1c" stroke-width="1.3" fill="#ccc"/>
<line x1="644" y1="483.5" x2="654" y2="483.5" stroke="#1c1c1c" stroke-width="1.1" />
<line x1="649" y1="478.5" x2="649" y2="488.5" stroke="#1c1c1c" stroke-width="1.1" />
<circle cx="593" cy="427.5" r="3.6" stroke="#1c1c1c" stroke-width="1.3" fill="#ccc"/>
<line x1="588" y1="427.5" x2="598" y2="427.5" stroke="#1c1c1c" stroke-width="1.1" />
<line x1="593" y1="422.5" x2="593" y2="432.5" stroke="#1c1c1c" stroke-width="1.1" />
<circle cx="704.6" cy="427.5" r="3.6" stroke="#1c1c1c" stroke-width="1.3" fill="#ccc"/>
<line x1="699.6" y1="427.5" x2="709.6" y2="427.5" stroke="#1c1c1c" stroke-width="1.1" />
<line x1="704.6" y1="422.5" x2="704.6" y2="432.5" stroke="#1c1c1c" stroke-width="1.1" />
<circle cx="790.8" cy="427.5" r="52.6" stroke="#1c1c1c" stroke-width="1.4" fill="#fff"/>
<circle cx="790.8" cy="427.5" r="49.4" stroke="#1c1c1c" stroke-width="1.3" fill="none"/>
<circle cx="790.8" cy="427.5" r="46.2" stroke="#1c1c1c" stroke-width="1.2" fill="none"/>
<rect x="776.62" y="388.45" width="3.5" height="3.5" rx="0" stroke="#000" stroke-width="1.55" fill="#fff"/>
<rect x="784.98" y="388.45" width="3.5" height="3.5" rx="0" stroke="#000" stroke-width="1.55" fill="#fff"/>
<rect x="793.32" y="388.45" width="3.5" height="3.5" rx="0" stroke="#000" stroke-width="1.55" fill="#fff"/>
<rect x="801.67" y="388.45" width="3.5" height="3.5" rx="0" stroke="#000" stroke-width="1.55" fill="#fff"/>
<rect x="759.92" y="396.85" width="3.5" height="3.5" rx="0" stroke="#000" stroke-width="1.55" fill="#fff"/>
<rect x="768.27" y="396.85" width="3.5" height="3.5" rx="0" stroke="#000" stroke-width="1.55" fill="#fff"/>
<rect x="776.62" y="396.85" width="3.5" height="3.5" rx="0" stroke="#000" stroke-width="1.55" fill="#fff"/>
<rect x="784.98" y="396.85" width="3.5" height="3.5" rx="0" stroke="#000" stroke-width="1.55" fill="#fff"/>
<rect x="793.32" y="396.85" width="3.5" height="3.5" rx="0" stroke="#000" stroke-width="1.55" fill="#fff"/>
<rect x="801.67" y="396.85" width="3.5" height="3.5" rx="0" stroke="#000" stroke-width="1.55" fill="#fff"/>
<rect x="810.02" y="396.85" width="3.5" height="3.5" rx="0" stroke="#000" stroke-width="1.55" fill="#fff"/>
<rect x="818.38" y="396.85" width="3.5" height="3.5" rx="0" stroke="#000" stroke-width="1.55" fill="#fff"/>
<rect x="759.92" y="405.25" width="3.5" height="3.5" rx="0" stroke="#000" stroke-width="1.55" fill="#fff"/>
<rect x="768.27" y="405.25" width="3.5" height="3.5" rx="0" stroke="#000" stroke-width="1.55" fill="#fff"/>
<rect x="776.62" y="405.25" width="3.5" height="3.5" rx="0" stroke="#000" stroke-width="1.55" fill="#fff"/>
<rect x="784.98" y="405.25" width="3.5" height="3.5" rx="0" stroke="#000" stroke-width="1.55" fill="#fff"/>
<rect x="793.32" y="405.25" width="3.5" height="3.5" rx="0" stroke="#000" stroke-width="1.55" fill="#fff"/>
<rect x="801.67" y="405.25" width="3.5" height="3.5" rx="0" stroke="#000" stroke-width="1.55" fill="#fff"/>
<rect x="810.02" y="405.25" width="3.5" height="3.5" rx="0" stroke="#000" stroke-width="1.55" fill="#fff"/>
<rect x="818.38" y="405.25" width="3.5" height="3.5" rx="0" stroke="#000" stroke-width="1.55" fill="#fff"/>
<rect x="751.57" y="413.65" width="3.5" height="3.5" rx="0" stroke="#000" stroke-width="1.55" fill="#fff"/>
<rect x="759.92" y="413.65" width="3.5" height="3.5" rx="0" stroke="#000" stroke-width="1.55" fill="#fff"/>
<rect x="768.27" y="413.65" width="3.5" height="3.5" rx="0" stroke="#000" stroke-width="1.55" fill="#fff"/>
<rect x="776.62" y="413.65" width="3.5" height="3.5" rx="0" stroke="#000" stroke-width="1.55" fill="#fff"/>
<rect x="784.98" y="413.65" width="3.5" height="3.5" rx="0" stroke="#000" stroke-width="1.55" fill="#fff"/>
<rect x="793.32" y="413.65" width="3.5" height="3.5" rx="0" stroke="#000" stroke-width="1.55" fill="#fff"/>
<rect x="801.67" y="413.65" width="3.5" height="3.5" rx="0" stroke="#000" stroke-width="1.55" fill="#fff"/>
<rect x="810.02" y="413.65" width="3.5" height="3.5" rx="0" stroke="#000" stroke-width="1.55" fill="#fff"/>
<rect x="818.38" y="413.65" width="3.5" height="3.5" rx="0" stroke="#000" stroke-width="1.55" fill="#fff"/>
<rect x="826.73" y="413.65" width="3.5" height="3.5" rx="0" stroke="#000" stroke-width="1.55" fill="#fff"/>
<rect x="751.57" y="422.05" width="3.5" height="3.5" rx="0" stroke="#000" stroke-width="1.55" fill="#fff"/>
<rect x="759.92" y="422.05" width="3.5" height="3.5" rx="0" stroke="#000" stroke-width="1.55" fill="#fff"/>
<rect x="768.27" y="422.05" width="3.5" height="3.5" rx="0" stroke="#000" stroke-width="1.55" fill="#fff"/>
<rect x="776.62" y="422.05" width="3.5" height="3.5" rx="0" stroke="#000" stroke-width="1.55" fill="#fff"/>
<rect x="784.98" y="422.05" width="3.5" height="3.5" rx="0" stroke="#000" stroke-width="1.55" fill="#fff"/>
<rect x="793.32" y="422.05" width="3.5" height="3.5" rx="0" stroke="#000" stroke-width="1.55" fill="#fff"/>
<rect x="801.67" y="422.05" width="3.5" height="3.5" rx="0" stroke="#000" stroke-width="1.55" fill="#fff"/>
<rect x="810.02" y="422.05" width="3.5" height="3.5" rx="0" stroke="#000" stroke-width="1.55" fill="#fff"/>
<rect x="818.38" y="422.05" width="3.5" height="3.5" rx="0" stroke="#000" stroke-width="1.55" fill="#fff"/>
<rect x="826.73" y="422.05" width="3.5" height="3.5" rx="0" stroke="#000" stroke-width="1.55" fill="#fff"/>
<rect x="751.57" y="430.45" width="3.5" height="3.5" rx="0" stroke="#000" stroke-width="1.55" fill="#fff"/>
<rect x="759.92" y="430.45" width="3.5" height="3.5" rx="0" stroke="#000" stroke-width="1.55" fill="#fff"/>
<rect x="768.27" y="430.45" width="3.5" height="3.5" rx="0" stroke="#000" stroke-width="1.55" fill="#fff"/>
<rect x="776.62" y="430.45" width="3.5" height="3.5" rx="0" stroke="#000" stroke-width="1.55" fill="#fff"/>
<rect x="784.98" y="430.45" width="3.5" height="3.5" rx="0" stroke="#000" stroke-width="1.55" fill="#fff"/>
<rect x="793.32" y="430.45" width="3.5" height="3.5" rx="0" stroke="#000" stroke-width="1.55" fill="#fff"/>
<rect x="801.67" y="430.45" width="3.5" height="3.5" rx="0" stroke="#000" stroke-width="1.55" fill="#fff"/>
<rect x="810.02" y="430.45" width="3.5" height="3.5" rx="0" stroke="#000" stroke-width="1.55" fill="#fff"/>
<rect x="818.38" y="430.45" width="3.5" height="3.5" rx="0" stroke="#000" stroke-width="1.55" fill="#fff"/>
<rect x="826.73" y="430.45" width="3.5" height="3.5" rx="0" stroke="#000" stroke-width="1.55" fill="#fff"/>
<rect x="751.57" y="438.85" width="3.5" height="3.5" rx="0" stroke="#000" stroke-width="1.55" fill="#fff"/>
<rect x="759.92" y="438.85" width="3.5" height="3.5" rx="0" stroke="#000" stroke-width="1.55" fill="#fff"/>
<rect x="768.27" y="438.85" width="3.5" height="3.5" rx="0" stroke="#000" stroke-width="1.55" fill="#fff"/>
<rect x="776.62" y="438.85" width="3.5" height="3.5" rx="0" stroke="#000" stroke-width="1.55" fill="#fff"/>
<rect x="784.98" y="438.85" width="3.5" height="3.5" rx="0" stroke="#000" stroke-width="1.55" fill="#fff"/>
<rect x="793.32" y="438.85" width="3.5" height="3.5" rx="0" stroke="#000" stroke-width="1.55" fill="#fff"/>
<rect x="801.67" y="438.85" width="3.5" height="3.5" rx="0" stroke="#000" stroke-width="1.55" fill="#fff"/>
<rect x="810.02" y="438.85" width="3.5" height="3.5" rx="0" stroke="#000" stroke-width="1.55" fill="#fff"/>
<rect x="818.38" y="438.85" width="3.5" height="3.5" rx="0" stroke="#000" stroke-width="1.55" fill="#fff"/>
<rect x="826.73" y="438.85" width="3.5" height="3.5" rx="0" stroke="#000" stroke-width="1.55" fill="#fff"/>
<rect x="759.92" y="447.25" width="3.5" height="3.5" rx="0" stroke="#000" stroke-width="1.55" fill="#fff"/>
<rect x="768.27" y="447.25" width="3.5" height="3.5" rx="0" stroke="#000" stroke-width="1.55" fill="#fff"/>
<rect x="776.62" y="447.25" width="3.5" height="3.5" rx="0" stroke="#000" stroke-width="1.55" fill="#fff"/>
<rect x="784.98" y="447.25" width="3.5" height="3.5" rx="0" stroke="#000" stroke-width="1.55" fill="#fff"/>
<rect x="793.32" y="447.25" width="3.5" height="3.5" rx="0" stroke="#000" stroke-width="1.55" fill="#fff"/>
<rect x="801.67" y="447.25" width="3.5" height="3.5" rx="0" stroke="#000" stroke-width="1.55" fill="#fff"/>
<rect x="810.02" y="447.25" width="3.5" height="3.5" rx="0" stroke="#000" stroke-width="1.55" fill="#fff"/>
<rect x="818.38" y="447.25" width="3.5" height="3.5" rx="0" stroke="#000" stroke-width="1.55" fill="#fff"/>
<rect x="759.92" y="455.65" width="3.5" height="3.5" rx="0" stroke="#000" stroke-width="1.55" fill="#fff"/>
<rect x="768.27" y="455.65" width="3.5" height="3.5" rx="0" stroke="#000" stroke-width="1.55" fill="#fff"/>
<rect x="776.62" y="455.65" width="3.5" height="3.5" rx="0" stroke="#000" stroke-width="1.55" fill="#fff"/>
<rect x="784.98" y="455.65" width="3.5" height="3.5" rx="0" stroke="#000" stroke-width="1.55" fill="#fff"/>
<rect x="793.32" y="455.65" width="3.5" height="3.5" rx="0" stroke="#000" stroke-width="1.55" fill="#fff"/>
<rect x="801.67" y="455.65" width="3.5" height="3.5" rx="0" stroke="#000" stroke-width="1.55" fill="#fff"/>
<rect x="810.02" y="455.65" width="3.5" height="3.5" rx="0" stroke="#000" stroke-width="1.55" fill="#fff"/>
<rect x="818.38" y="455.65" width="3.5" height="3.5" rx="0" stroke="#000" stroke-width="1.55" fill="#fff"/>
<rect x="776.62" y="464.05" width="3.5" height="3.5" rx="0" stroke="#000" stroke-width="1.55" fill="#fff"/>
<rect x="784.98" y="464.05" width="3.5" height="3.5" rx="0" stroke="#000" stroke-width="1.55" fill="#fff"/>
<rect x="793.32" y="464.05" width="3.5" height="3.5" rx="0" stroke="#000" stroke-width="1.55" fill="#fff"/>
<rect x="801.67" y="464.05" width="3.5" height="3.5" rx="0" stroke="#000" stroke-width="1.55" fill="#fff"/>
<circle cx="790.8" cy="371.3" r="3.6" stroke="#1c1c1c" stroke-width="1.3" fill="#ccc"/>
<line x1="785.8" y1="371.3" x2="795.8" y2="371.3" stroke="#1c1c1c" stroke-width="1.1" />
<line x1="790.8" y1="366.3" x2="790.8" y2="376.3" stroke="#1c1c1c" stroke-width="1.1" />
<circle cx="790.8" cy="483.5" r="3.6" stroke="#1c1c1c" stroke-width="1.3" fill="#ccc"/>
<line x1="785.8" y1="483.5" x2="795.8" y2="483.5" stroke="#1c1c1c" stroke-width="1.1" />
<line x1="790.8" y1="478.5" x2="790.8" y2="488.5" stroke="#1c1c1c" stroke-width="1.1" />
<circle cx="734.8" cy="427.5" r="3.6" stroke="#1c1c1c" stroke-width="1.3" fill="#ccc"/>
<line x1="729.8" y1="427.5" x2="739.8" y2="427.5" stroke="#1c1c1c" stroke-width="1.1" />
<line x1="734.8" y1="422.5" x2="734.8" y2="432.5" stroke="#1c1c1c" stroke-width="1.1" />
<circle cx="846.4" cy="427.5" r="3.6" stroke="#1c1c1c" stroke-width="1.3" fill="#ccc"/>
<line x1="841.4" y1="427.5" x2="851.4" y2="427.5" stroke="#1c1c1c" stroke-width="1.1" />
<line x1="846.4" y1="422.5" x2="846.4" y2="432.5" stroke="#1c1c1c" stroke-width="1.1" />
<line x1="611.6" y1="391.4" x2="649" y2="427.5" stroke="#222" stroke-width="1.3" />
<line x1="649" y1="363" x2="649" y2="394" stroke="#222" stroke-width="1.4" />
<line x1="649" y1="412" x2="649" y2="492" stroke="#222" stroke-width="1.4" />
<line x1="551" y1="427.5" x2="608" y2="427.5" stroke="#1c1c1c" stroke-width="1.5" />
<line x1="608" y1="427.5" x2="672" y2="427.5" stroke="#3a3a3a" stroke-width="2.0" />
<line x1="672" y1="427.5" x2="712" y2="427.5" stroke="#555" stroke-width="1.0" />
<line x1="790.8" y1="325" x2="790.8" y2="393" stroke="#111" stroke-width="2.2" />
<line x1="790.8" y1="393" x2="790.8" y2="492" stroke="#222" stroke-width="1.5" />
<line x1="751" y1="427.5" x2="767" y2="427.5" stroke="#555" stroke-width="1.0" />
<line x1="767" y1="427.5" x2="946" y2="427.5" stroke="#111" stroke-width="1.9" />
<circle cx="643.7" cy="406.7" r="5.6" stroke="#1c1c1c" stroke-width="1.4" fill="#fff"/>
<circle cx="643.7" cy="406.7" r="2.4" stroke="#1c1c1c" stroke-width="1.2" fill="#444"/>
<line x1="637" y1="406.7" x2="650.5" y2="406.7" stroke="#1c1c1c" stroke-width="1.0" />
<line x1="643.7" y1="400" x2="643.7" y2="413.5" stroke="#1c1c1c" stroke-width="1.0" />
<circle cx="794.8" cy="406.7" r="5.8" stroke="#1c1c1c" stroke-width="1.5" fill="#fff"/>
<circle cx="794.8" cy="406.7" r="2.4" stroke="#1c1c1c" stroke-width="1.2" fill="#444"/>
<line x1="788" y1="406.7" x2="801" y2="406.7" stroke="#1c1c1c" stroke-width="1.0" />
<line x1="794.8" y1="400" x2="794.8" y2="413.5" stroke="#1c1c1c" stroke-width="1.0" />
<line x1="801" y1="406.4" x2="899" y2="406.4" stroke="#555" stroke-width="2.4" />
<rect x="685" y="351.8" width="70" height="8.8" rx="3" stroke="#1c1c1c" stroke-width="1.5" fill="#fff"/>
<line x1="520.5" y1="352.5" x2="700" y2="352.5" stroke="#1c1c1c" stroke-width="2.0" />
<circle cx="719.2" cy="362.6" r="3.6" stroke="#1c1c1c" stroke-width="1.3" fill="none"/>
<line x1="719.4" y1="362" x2="719.4" y2="398" stroke="#3a3a3a" stroke-width="2.1" />
<line x1="719.4" y1="405.6" x2="719.4" y2="414" stroke="#3a3a3a" stroke-width="2.1" />
<line x1="719.4" y1="421" x2="719.4" y2="456" stroke="#3a3a3a" stroke-width="2.1" />
<line x1="719.4" y1="465.6" x2="719.4" y2="471.6" stroke="#3a3a3a" stroke-width="2.1" />
<line x1="719.4" y1="476" x2="719.4" y2="497" stroke="#3a3a3a" stroke-width="2.1" />
<path d="M710,445 Q719.6,451 729.6,445" stroke="#1c1c1c" stroke-width="1.3" fill="none"/>
<path d="M694.8,471.6 Q703.5,476 705,485.6" stroke="#1c1c1c" stroke-width="1.3" fill="none"/>
<path d="M744,471.6 Q736,476 735,485.4" stroke="#1c1c1c" stroke-width="1.3" fill="none"/>
<rect x="684.6" y="486.6" width="70.2" height="7.8" rx="2.5" stroke="#1c1c1c" stroke-width="1.5" fill="#fff"/>
<circle cx="719.5" cy="483" r="6.4" stroke="#1c1c1c" stroke-width="1.5" fill="#fff"/>
<line x1="719.5" y1="475" x2="719.5" y2="497" stroke="#333" stroke-width="2.0" />
<line x1="711.5" y1="483" x2="727" y2="483" stroke="#1c1c1c" stroke-width="1.3" />
<path d="M731.6,487 Q732,493 735.6,493 Q739.4,493 739.6,487" stroke="#1c1c1c" stroke-width="1.3" fill="none"/>
<line x1="726" y1="483" x2="899" y2="483" stroke="#1c1c1c" stroke-width="1.5" />
<polygon points="711,320 706.2,335 715.8,335" fill="#111"/>
<line x1="711" y1="334" x2="711" y2="349" stroke="#111" stroke-width="3.2" />
<polygon points="711,502.5 706.2,517.5 715.8,517.5" fill="#111"/>
<line x1="711" y1="516.5" x2="711" y2="531" stroke="#111" stroke-width="3.2" />
<rect x="755.0" y="310" width="2.4" height="14.4" rx="0" stroke="#1c1c1c" stroke-width="0" fill="#1c1c1c"/>
<rect x="760.4" y="310" width="2.4" height="14.4" rx="0" stroke="#1c1c1c" stroke-width="0" fill="#1c1c1c"/>
<line x1="751" y1="326" x2="724" y2="356" stroke="#1c1c1c" stroke-width="1.3" />
<polygon points="724.6,355.4 728.0,345.6 733.0,350.0" fill="#1c1c1c"/>
<rect x="763.1" y="512.4" width="2.6" height="16" rx="0" stroke="#1c1c1c" stroke-width="0" fill="#1c1c1c"/>
<rect x="770.3000000000001" y="512.4" width="2.6" height="16" rx="0" stroke="#1c1c1c" stroke-width="0" fill="#1c1c1c"/>
<line x1="749.4" y1="521.4" x2="721" y2="488.4" stroke="#1c1c1c" stroke-width="1.3" />
<polygon points="721,488 727.0,500.2 732.4,495.8" fill="#1c1c1c"/>
<line x1="864.5" y1="325" x2="864.5" y2="388" stroke="#1c1c1c" stroke-width="1.5" />
<line x1="791" y1="331" x2="864.5" y2="331" stroke="#1c1c1c" stroke-width="1.5" />
<polygon points="791.0,331.0 803.0,328.2 803.0,333.8" fill="#1c1c1c"/>
<polygon points="864.5,331.0 852.5,328.2 852.5,333.8" fill="#1c1c1c"/>
<text x="828" y="322.5" font-size="22" text-anchor="middle" letter-spacing="0.5" fill="#1c1c1c">183</text>
<line x1="815.5" y1="348.6" x2="946" y2="348.6" stroke="#555" stroke-width="2.4" />
<line x1="938.8" y1="348.8" x2="938.8" y2="427.5" stroke="#1c1c1c" stroke-width="1.6" />
<polygon points="938.8,348.8 936.0,360.8 941.6,360.8" fill="#1c1c1c"/>
<polygon points="938.8,427.5 936.0,415.5 941.6,415.5" fill="#1c1c1c"/>
<text x="930" y="388.5" font-size="22" text-anchor="middle" letter-spacing="0.5" fill="#1c1c1c" transform="rotate(-90 930 388.5)">183</text>
<line x1="894.5" y1="369.5" x2="894.5" y2="483" stroke="#1c1c1c" stroke-width="1.5" />
<polygon points="894.5,406.0 891.7,394.0 897.3,394.0" fill="#1c1c1c"/>
<polygon points="894.5,427.5 891.7,439.5 897.3,439.5" fill="#1c1c1c"/>
<polygon points="894.5,483.0 891.7,471.0 897.3,471.0" fill="#1c1c1c"/>
<text x="885.5" y="383.5" font-size="22" text-anchor="middle" letter-spacing="0.5" fill="#1c1c1c" transform="rotate(-90 885.5 383.5)">52</text>
<text x="885.5" y="455.5" font-size="22" text-anchor="middle" letter-spacing="0.5" fill="#1c1c1c" transform="rotate(-90 885.5 455.5)">145</text>
</g>
<g id="bottomleft">
<text x="313" y="604" font-size="22" text-anchor="middle" letter-spacing="0.5" fill="#1c1c1c">400</text>
<line x1="236" y1="612" x2="387.5" y2="612" stroke="#1c1c1c" stroke-width="1.6" />
<polygon points="236.0,612.0 247.5,609.3 247.5,614.7" fill="#1c1c1c"/>
<polygon points="387.5,612.0 376.0,609.3 376.0,614.7" fill="#1c1c1c"/>
<line x1="236" y1="607.5" x2="236" y2="700" stroke="#1c1c1c" stroke-width="1.6" />
<line x1="387.5" y1="607.5" x2="387.5" y2="697.5" stroke="#1c1c1c" stroke-width="1.6" />
<rect x="219.5" y="626.8" width="38" height="65.2" rx="0" stroke="#1c1c1c" stroke-width="1.5" fill="none" stroke-dasharray="9 3.5"/>
<path d="M227,626.8 L227,653 L257.5,653" stroke="#1c1c1c" stroke-width="1.5" fill="none" stroke-dasharray="9 3.5"/>
<path d="M220,664 L249.5,664 L249.5,690" stroke="#1c1c1c" stroke-width="1.5" fill="none" stroke-dasharray="9 3.5"/>
<circle cx="236" cy="640" r="5.4" stroke="#1c1c1c" stroke-width="1.4" fill="#fff"/>
<line x1="222.5" y1="640" x2="296" y2="640" stroke="#1c1c1c" stroke-width="1.5" />
<line x1="236" y1="629" x2="236" y2="652" stroke="#1c1c1c" stroke-width="1.6" />
<circle cx="236" cy="677" r="12.6" stroke="#1c1c1c" stroke-width="1.4" fill="none"/>
<circle cx="236" cy="677" r="8" stroke="#1c1c1c" stroke-width="1.3" fill="none"/>
<circle cx="236" cy="677" r="4" stroke="#1c1c1c" stroke-width="1.3" fill="none"/>
<line x1="199" y1="677" x2="286" y2="677" stroke="#1c1c1c" stroke-width="1.5" />
<line x1="286" y1="677" x2="402.5" y2="677" stroke="#1c1c1c" stroke-width="1.5" stroke-dasharray="30 4 5 4" />
<rect x="366.8" y="626.8" width="42.7" height="65.2" rx="0" stroke="#1c1c1c" stroke-width="1.5" fill="none" stroke-dasharray="9 3.5"/>
<path d="M375,626.8 L375,653 L409.5,653" stroke="#1c1c1c" stroke-width="1.5" fill="none" stroke-dasharray="9 3.5"/>
<path d="M370,664 L401,664 L401,690" stroke="#1c1c1c" stroke-width="1.5" fill="none" stroke-dasharray="9 3.5"/>
<circle cx="387.5" cy="640" r="5.4" stroke="#1c1c1c" stroke-width="1.4" fill="#fff"/>
<line x1="371" y1="640" x2="401" y2="640" stroke="#1c1c1c" stroke-width="1.4" />
<circle cx="387.5" cy="677" r="12" stroke="#1c1c1c" stroke-width="1.4" fill="none"/>
<circle cx="387.5" cy="677" r="8" stroke="#1c1c1c" stroke-width="1.3" fill="none"/>
<circle cx="387.5" cy="677" r="4" stroke="#1c1c1c" stroke-width="1.3" fill="none"/>
<line x1="287.5" y1="640" x2="287.5" y2="677" stroke="#1c1c1c" stroke-width="1.5" />
<polygon points="287.5,640.0 284.8,651.5 290.2,651.5" fill="#1c1c1c"/>
<polygon points="287.5,677.0 284.8,665.5 290.2,665.5" fill="#1c1c1c"/>
<text x="279.5" y="657" font-size="22" text-anchor="middle" letter-spacing="0.5" fill="#1c1c1c" transform="rotate(-90 279.5 657)">50</text>
<line x1="203" y1="677" x2="203" y2="780.8" stroke="#1c1c1c" stroke-width="1.5" />
<polygon points="203.0,677.0 200.3,688.5 205.7,688.5" fill="#1c1c1c"/>
<polygon points="203.0,722.5 200.3,711.0 205.7,711.0" fill="#1c1c1c"/>
<polygon points="203.0,722.5 200.3,734.0 205.7,734.0" fill="#1c1c1c"/>
<polygon points="203.0,780.8 200.3,769.3 205.7,769.3" fill="#1c1c1c"/>
<text x="195.5" y="700" font-size="22" text-anchor="middle" letter-spacing="0.5" fill="#1c1c1c" transform="rotate(-90 195.5 700)">52</text>
<text x="195.5" y="753" font-size="22" text-anchor="middle" letter-spacing="0.5" fill="#1c1c1c" transform="rotate(-90 195.5 753)">145</text>
<line x1="197" y1="722.5" x2="387.5" y2="722.5" stroke="#333" stroke-width="1.6" stroke-dasharray="32 5 6 5" />
<line x1="199.5" y1="780.8" x2="331.6" y2="780.8" stroke="#1c1c1c" stroke-width="1.4" />
<line x1="312.5" y1="622.5" x2="312.5" y2="842" stroke="#1c1c1c" stroke-width="1.3" stroke-dasharray="26 3 4 3" />
<rect x="289" y="767.5" width="46.6" height="61.8" rx="0" stroke="#1c1c1c" stroke-width="1.5" fill="none" stroke-dasharray="9 3.5"/>
<path d="M299.3,767.5 L299.3,793.3 L335.6,793.3" stroke="#1c1c1c" stroke-width="1.5" fill="none" stroke-dasharray="9 3.5"/>
<path d="M294,806.4 L324.4,806.4" stroke="#1c1c1c" stroke-width="1.4" fill="none" stroke-dasharray="9 3.5"/>
<line x1="324.4" y1="806.4" x2="324.4" y2="825" stroke="#1c1c1c" stroke-width="1.3" />
<circle cx="312.4" cy="781.3" r="10.4" stroke="#1c1c1c" stroke-width="1.4" fill="none"/>
<circle cx="312.4" cy="781.3" r="4" stroke="#1c1c1c" stroke-width="1.3" fill="none"/>
<circle cx="312.4" cy="818" r="5.6" stroke="#1c1c1c" stroke-width="1.5" fill="#fff"/>
<line x1="310.8" y1="812.8" x2="370.8" y2="812.8" stroke="#1c1c1c" stroke-width="2.0" />
<line x1="316" y1="823.2" x2="370.8" y2="823.2" stroke="#1c1c1c" stroke-width="2.0" />
<line x1="270.8" y1="818" x2="330.8" y2="818" stroke="#444" stroke-width="1.3" />
<line x1="312.4" y1="796" x2="312.4" y2="842" stroke="#1c1c1c" stroke-width="1.4" />
<line x1="275.6" y1="781.3" x2="275.6" y2="818" stroke="#1c1c1c" stroke-width="1.5" />
<polygon points="275.6,781.3 272.9,792.8 278.3,792.8" fill="#1c1c1c"/>
<polygon points="275.6,818.0 272.9,806.5 278.3,806.5" fill="#1c1c1c"/>
<text x="268" y="798" font-size="22" text-anchor="middle" letter-spacing="0.5" fill="#1c1c1c" transform="rotate(-90 268 798)">50</text>
<line x1="367.6" y1="752" x2="367.6" y2="854.4" stroke="#1c1c1c" stroke-width="1.6" />
<polygon points="367.6,812.8 364.9,801.3 370.3,801.3" fill="#1c1c1c"/>
<polygon points="367.6,823.2 364.9,834.7 370.3,834.7" fill="#1c1c1c"/>
<text x="361.5" y="773" font-size="22" text-anchor="middle" letter-spacing="0.5" fill="#1c1c1c" transform="rotate(-90 361.5 773)">Ø18</text>
</g>
<g id="bottomright">
<text x="781" y="656.5" font-size="22" text-anchor="middle" letter-spacing="0.5" word-spacing="-2" fill="#1c1c1c">DN 40</text>
<line x1="681" y1="669.5" x2="708.7" y2="669.5" stroke="#1c1c1c" stroke-width="1.5" />
<line x1="730" y1="669.5" x2="818" y2="669.5" stroke="#1c1c1c" stroke-width="1.5" />
<polygon points="708.7,669.5 697.2,666.8 697.2,672.2" fill="#1c1c1c"/>
<polygon points="730.0,669.5 741.5,666.8 741.5,672.2" fill="#1c1c1c"/>
<line x1="708.6" y1="665" x2="708.6" y2="723" stroke="#444" stroke-width="1.9" />
<line x1="729.8" y1="665" x2="729.8" y2="727" stroke="#1c1c1c" stroke-width="1.9" />
<circle cx="719.5" cy="722.3" r="34.6" stroke="#1c1c1c" stroke-width="1.5" fill="none"/>
<circle cx="719.5" cy="722.3" r="25.3" stroke="#1c1c1c" stroke-width="1.4" fill="none" stroke-dasharray="11 4 3 4"/>
<circle cx="719.5" cy="722.3" r="20" stroke="#1c1c1c" stroke-width="1.4" fill="none"/>
<circle cx="719.5" cy="722.3" r="10.5" stroke="#1c1c1c" stroke-width="1.5" fill="none"/>
<circle cx="701" cy="704.3" r="3.4" stroke="#1c1c1c" stroke-width="1.2" fill="none"/>
<circle cx="701" cy="704.3" r="1.3" stroke="#1c1c1c" stroke-width="0.9" fill="none"/>
<line x1="687.5" y1="722.3" x2="698" y2="722.3" stroke="#4a4a4a" stroke-width="1.7" />
<line x1="706" y1="722.3" x2="711" y2="722.3" stroke="#4a4a4a" stroke-width="1.7" />
<line x1="715.5" y1="722.3" x2="730.5" y2="722.3" stroke="#4a4a4a" stroke-width="1.7" />
<line x1="733" y1="722.3" x2="740" y2="722.3" stroke="#4a4a4a" stroke-width="1.7" />
<line x1="745" y1="722.3" x2="755" y2="722.3" stroke="#4a4a4a" stroke-width="1.7" />
<line x1="719.5" y1="687" x2="719.5" y2="698" stroke="#4a4a4a" stroke-width="1.7" />
<line x1="719.5" y1="704" x2="719.5" y2="708" stroke="#4a4a4a" stroke-width="1.7" />
<line x1="719.5" y1="714" x2="719.5" y2="727" stroke="#4a4a4a" stroke-width="1.7" />
<line x1="719.5" y1="733" x2="719.5" y2="736.5" stroke="#4a4a4a" stroke-width="1.7" />
<line x1="719.5" y1="744" x2="719.5" y2="754" stroke="#4a4a4a" stroke-width="1.7" />
<line x1="654.8" y1="672" x2="654.8" y2="802.6" stroke="#1c1c1c" stroke-width="1.5" />
<line x1="648.6" y1="700.4" x2="694" y2="700.4" stroke="#333" stroke-width="2.2" />
<line x1="648.6" y1="707.8" x2="703" y2="707.8" stroke="#1c1c1c" stroke-width="1.3" />
<polygon points="654.8,700.3 652.1,688.8 657.5,688.8" fill="#1c1c1c"/>
<polygon points="654.8,707.8 652.1,719.3 657.5,719.3" fill="#1c1c1c"/>
<text x="645.5" y="762" font-size="22" text-anchor="middle" letter-spacing="0.5" fill="#1c1c1c" transform="rotate(-90 645.5 762)">4x19</text>
<line x1="685" y1="715" x2="685" y2="834.5" stroke="#1c1c1c" stroke-width="1.9" />
<line x1="753.6" y1="713" x2="753.6" y2="834.5" stroke="#444" stroke-width="2.0" />
<line x1="694" y1="731" x2="694" y2="800" stroke="#1c1c1c" stroke-width="1.4" />
<line x1="745.4" y1="724" x2="745.4" y2="800" stroke="#444" stroke-width="2.0" />
<line x1="694.4" y1="794.5" x2="745.4" y2="794.5" stroke="#1c1c1c" stroke-width="1.5" />
<polygon points="694.4,794.5 705.9,791.8 705.9,797.2" fill="#1c1c1c"/>
<polygon points="745.4,794.5 733.9,791.8 733.9,797.2" fill="#1c1c1c"/>
<text x="717" y="785" font-size="22" text-anchor="middle" letter-spacing="0.5" word-spacing="-2" fill="#1c1c1c">Ø 110</text>
<line x1="685" y1="829" x2="754" y2="829" stroke="#1c1c1c" stroke-width="1.5" />
<polygon points="685.0,829.0 696.5,826.3 696.5,831.7" fill="#1c1c1c"/>
<polygon points="754.0,829.0 742.5,826.3 742.5,831.7" fill="#1c1c1c"/>
<text x="717" y="822" font-size="22" text-anchor="middle" letter-spacing="0.5" word-spacing="-2" fill="#1c1c1c">Ø 150</text>
</g>
</g>
</svg>
</body></html>
